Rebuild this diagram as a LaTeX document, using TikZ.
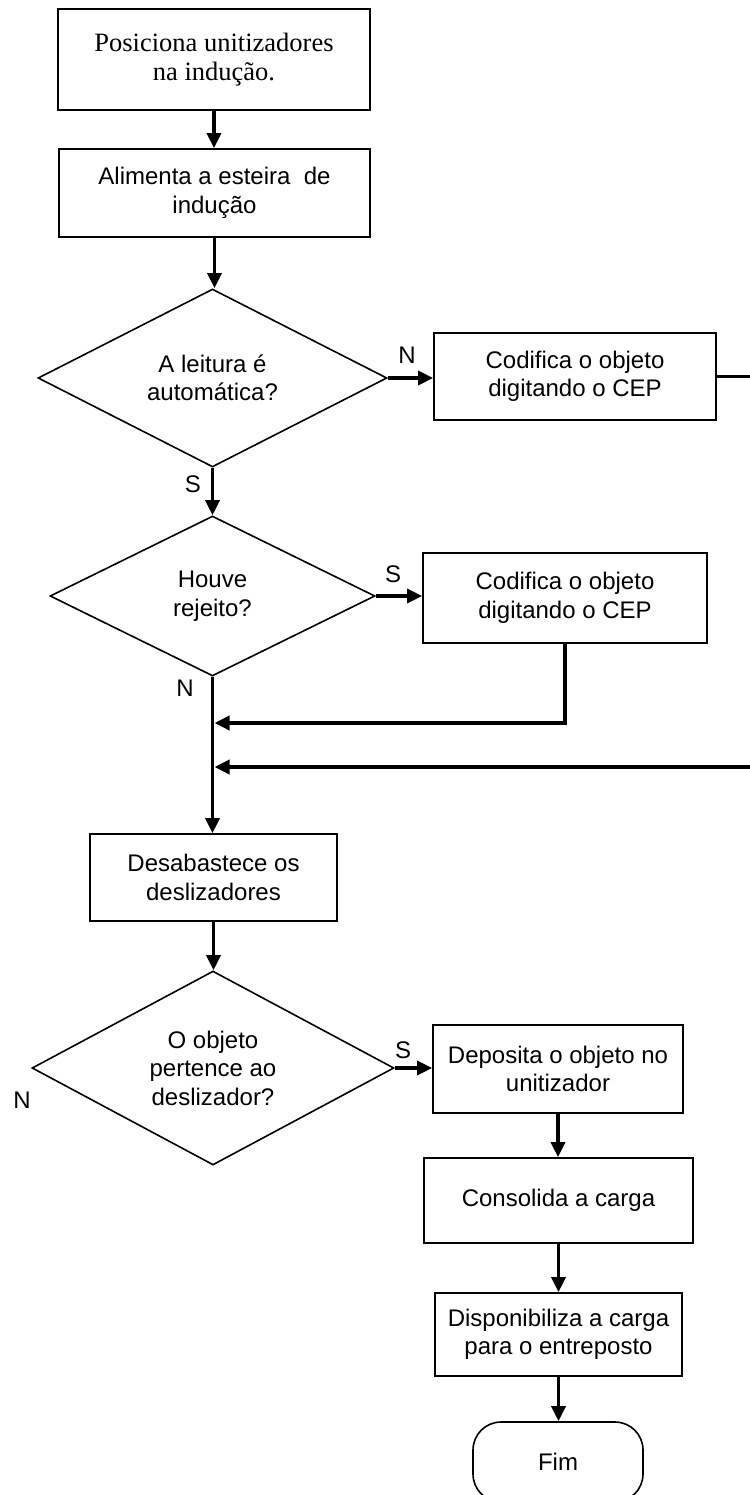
\documentclass[tikz,border=0pt]{standalone}
\usepackage{fontspec}
\setmainfont{Liberation Serif}
\setsansfont{Liberation Sans}
\usetikzlibrary{shapes.geometric,arrows.meta}
\begin{document}
\begin{tikzpicture}[x=1pt,y=-1pt,
  txt/.style={font=\sffamily\fontsize{24}{28.5}\selectfont},
  proc/.style={draw, line width=1.7pt, rectangle, inner sep=0pt, align=center, txt},
  decision/.style={draw, line width=1.6pt, diamond, aspect=2, inner sep=0pt, align=center, txt},
  term/.style={draw, line width=1.6pt, rectangle, rounded corners=28pt, inner sep=0pt, align=center, txt},
  flow/.style={line width=3.4pt, -{Triangle[length=15pt,width=14pt]}},
  tag/.style={txt, inner sep=0pt}]
\useasboundingbox (0,0) rectangle (749,1495);

% process steps and decisions
\node[proc, font=\rmfamily\fontsize{26.5}{28.5}\selectfont, minimum width=312pt, minimum height=101pt] (pos) at (214,59.5) {Posiciona unitizadores\\na indução.};
\node[proc, minimum width=311pt, minimum height=88pt] (alim) at (214.5,193) {Alimenta a esteira\ \ de\\indução};
\node[decision, minimum width=349pt, minimum height=178pt] (d1) at (212.5,378) {A leitura é\\automática?};
\node[proc, minimum width=282pt, minimum height=87pt] (cod1) at (575,376.5) {Codifica o objeto\\digitando o CEP};
\node[decision, minimum width=325pt, minimum height=160pt] (d2) at (212.5,596) {Houve\\rejeito?};
\node[proc, minimum width=284pt, minimum height=90pt] (cod2) at (565,598) {Codifica o objeto\\digitando o CEP};
\node[proc, minimum width=247pt, minimum height=87pt] (desab) at (213.5,877.5) {Desabastece os\\deslizadores};
\node[decision, minimum width=362pt, minimum height=194pt] (d3) at (213,1068) {O objeto\\pertence ao\\deslizador?};
\node[proc, minimum width=250pt, minimum height=88pt] (depos) at (558,1069) {Deposita o objeto no\\unitizador};
\node[proc, minimum width=269pt, minimum height=85pt] (consol) at (558.5,1200.5) {Consolida a carga};
\node[proc, minimum width=247pt, minimum height=83pt] (disp) at (558.5,1334.5) {Disponibiliza a carga\\para o entreposto};
\node[term, minimum width=170pt, minimum height=80pt] (fim) at (558,1462) {Fim};

% branch labels
\node[tag] (n1) at (407,355) {N};
\node[tag] (s1) at (193,484) {S};
\node[tag] (s2) at (393,574) {S};
\node[tag] (n2) at (185,688) {N};
\node[tag] (s3) at (403,1050) {S};
\node[tag] (n3) at (22,1100) {N};

% junction points on the main line and the return path along the edge
\coordinate (j1) at (214.5,723);
\coordinate (j2) at (214.5,767);
\coordinate (edge) at (753,0);

% connectors
\draw[flow] (pos.south) -- (pos.south |- alim.north);
\draw[flow] (alim.south) -- (alim.south |- d1.north);
\draw[flow] (d1.east) -- (d1.east -| cod1.west);
\draw[flow] (d1.south) -- (d2.north);
\draw[flow] (d2.east) -- (d2.east -| cod2.west);
\draw[flow] (d2.south) -- (d2.south |- desab.north);
\draw[flow] (cod2.south) |- (j1);
\draw[flow] (cod1.east) -- (cod1.east -| edge) |- (j2);
\draw[flow] (desab.south) -- (desab.south |- d3.north);
\draw[flow] (d3.east) -- (d3.east -| depos.west);
\draw[flow] (depos.south) -- (depos.south |- consol.north);
\draw[flow] (consol.south) -- (consol.south |- disp.north);
\draw[flow] (disp.south) -- (disp.south |- fim.north);
\end{tikzpicture}
\end{document}
